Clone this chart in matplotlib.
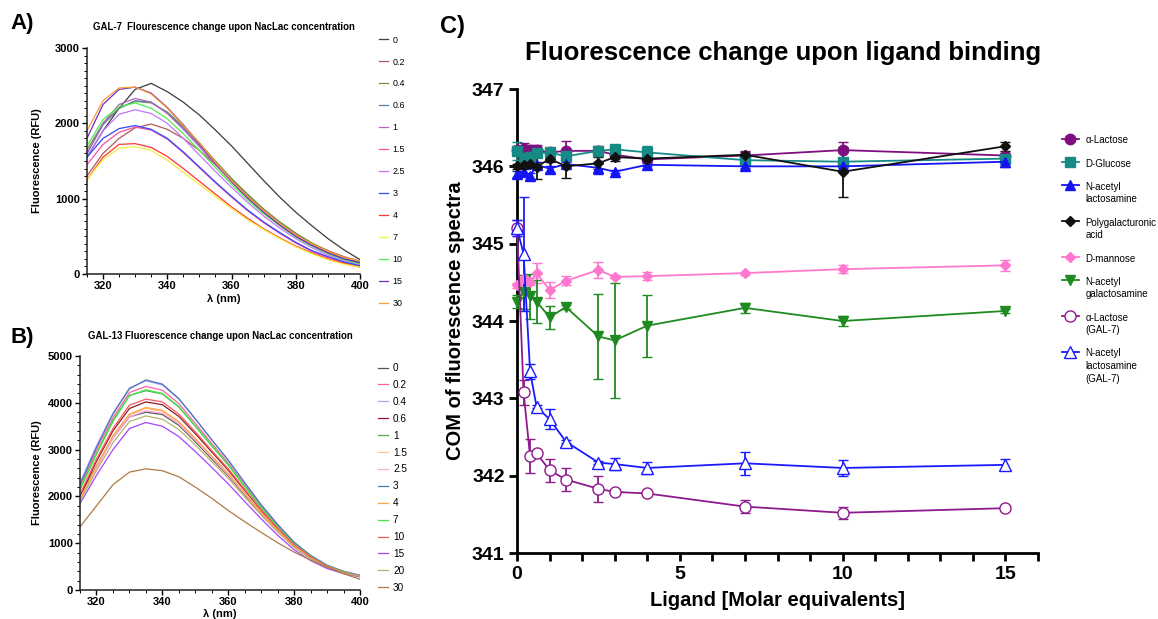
import numpy as np
import matplotlib.pyplot as plt
from matplotlib.lines import Line2D
from matplotlib.ticker import MultipleLocator

plt.rcParams['font.family'] = ['Liberation Sans', 'DejaVu Sans']

# emission wavelengths (nm)
wl = [315, 320, 325, 330, 335, 340, 345, 350, 355, 360, 365, 370, 375, 380, 385, 390, 395, 400]

# GAL-7 titration with NacLac (molar equivalents)
gal7_conc = ['0', '0.2', '0.4', '0.6', '1', '1.5', '2.5', '3', '4', '7', '10', '15', '30']
gal7_colors = ['#3a3a3a', '#b05a55', '#6f9a45', '#5f7f9f', '#b362bd', '#ff4f9f', '#c275ff',
               '#3347ff', '#ff3535', '#f5f03a', '#4cf04c', '#6a2fc0', '#ff9a35']
gal7_rfu = [
    [1550, 1900, 2200, 2450, 2530, 2420, 2280, 2110, 1910, 1700, 1470, 1240, 1020, 820, 640, 470, 320, 190],
    [1300, 1600, 1800, 1940, 1990, 1920, 1800, 1640, 1450, 1250, 1050, 860, 690, 540, 410, 310, 230, 170],
    [1650, 2000, 2200, 2290, 2270, 2150, 1960, 1740, 1500, 1270, 1060, 860, 690, 540, 410, 300, 220, 160],
    [1600, 1980, 2200, 2300, 2280, 2140, 1940, 1710, 1470, 1240, 1030, 840, 670, 520, 390, 290, 210, 150],
    [1600, 2000, 2250, 2330, 2280, 2130, 1920, 1690, 1450, 1220, 1010, 820, 650, 500, 380, 280, 200, 140],
    [1450, 1720, 1880, 1950, 1910, 1790, 1610, 1410, 1210, 1020, 840, 680, 540, 410, 300, 220, 150, 100],
    [1550, 1900, 2120, 2180, 2130, 2000, 1800, 1580, 1360, 1150, 950, 770, 610, 470, 350, 250, 180, 120],
    [1550, 1800, 1930, 1970, 1920, 1800, 1620, 1420, 1220, 1030, 850, 690, 550, 420, 310, 230, 160, 110],
    [1250, 1550, 1720, 1730, 1680, 1560, 1400, 1230, 1060, 890, 740, 600, 480, 370, 280, 200, 140, 90],
    [1250, 1520, 1670, 1690, 1640, 1510, 1350, 1190, 1030, 870, 720, 590, 470, 360, 270, 190, 130, 90],
    [1700, 2050, 2220, 2270, 2200, 2060, 1860, 1640, 1410, 1190, 980, 800, 640, 490, 370, 270, 190, 130],
    [1800, 2250, 2450, 2480, 2400, 2210, 1980, 1730, 1470, 1230, 1010, 820, 650, 500, 380, 280, 200, 150],
    [1900, 2300, 2470, 2480, 2390, 2200, 1970, 1740, 1480, 1240, 1030, 840, 670, 520, 400, 300, 220, 170],
]

# GAL-13 titration with NacLac (molar equivalents)
gal13_conc = ['0', '0.2', '0.4', '0.6', '1', '1.5', '2.5', '3', '4', '7', '10', '15', '20', '30']
gal13_colors = ['#555555', '#ff5fa5', '#a0a6ff', '#8b1c24', '#4caf50', '#ffc98a', '#ffa8e6',
                '#5674b4', '#ffa347', '#45e645', '#ff5560', '#a545ff', '#b5b36a', '#b07a45']
gal13_rfu = [
    [2000, 2650, 3250, 3700, 3800, 3750, 3520, 3170, 2800, 2440, 2030, 1630, 1260, 930, 680, 490, 370, 290],
    [2200, 3000, 3680, 4220, 4350, 4270, 3980, 3560, 3130, 2710, 2240, 1780, 1370, 1000, 730, 520, 390, 310],
    [2300, 3080, 3780, 4320, 4470, 4380, 4080, 3650, 3210, 2780, 2300, 1820, 1400, 1020, 740, 530, 400, 320],
    [2000, 2750, 3400, 3880, 4020, 3960, 3710, 3340, 2950, 2560, 2130, 1700, 1310, 960, 700, 500, 380, 290],
    [2150, 2920, 3620, 4160, 4260, 4190, 3910, 3500, 3080, 2670, 2210, 1750, 1350, 990, 720, 520, 390, 300],
    [1950, 2620, 3280, 3740, 3880, 3820, 3580, 3220, 2850, 2480, 2060, 1650, 1270, 940, 690, 500, 370, 290],
    [1950, 2600, 3250, 3700, 3830, 3780, 3550, 3200, 2830, 2460, 2050, 1640, 1270, 930, 680, 490, 370, 290],
    [2250, 3050, 3760, 4300, 4490, 4400, 4090, 3660, 3210, 2770, 2290, 1820, 1400, 1020, 740, 530, 400, 310],
    [1950, 2650, 3300, 3760, 3900, 3840, 3600, 3240, 2860, 2490, 2070, 1650, 1280, 940, 690, 500, 370, 290],
    [2150, 2900, 3600, 4150, 4280, 4200, 3920, 3510, 3090, 2680, 2220, 1760, 1350, 990, 720, 520, 390, 300],
    [2050, 2800, 3450, 3950, 4080, 4020, 3760, 3380, 2980, 2590, 2150, 1710, 1320, 970, 710, 510, 380, 300],
    [1850, 2450, 3000, 3450, 3580, 3500, 3280, 2960, 2620, 2270, 1890, 1520, 1170, 860, 630, 460, 350, 280],
    [1900, 2550, 3150, 3600, 3720, 3650, 3430, 3100, 2740, 2390, 1990, 1600, 1240, 910, 670, 490, 370, 290],
    [1350, 1800, 2250, 2520, 2590, 2550, 2420, 2200, 1960, 1700, 1460, 1230, 1010, 810, 640, 490, 350, 230],
]

# centre of mass of the spectra vs ligand equivalents (mean, sd)
ligand_eq = [0, 0.2, 0.4, 0.6, 1, 1.5, 2.5, 3, 4, 7, 10, 15]
lactose = [346.21, 346.22, 346.21, 346.21, 346.18, 346.2, 346.2, 346.15, 346.09, 346.14, 346.21, 346.14]
lactose_sd = [0.05, 0.08, 0.07, 0.06, 0.03, 0.13, 0.06, 0.05, 0.03, 0.06, 0.1, 0.03]
glucose = [346.2, 346.11, 346.12, 346.17, 346.18, 346.13, 346.2, 346.22, 346.18, 346.08, 346.06, 346.1]
glucose_sd = [0.12, 0.05, 0.05, 0.05, 0.03, 0.03, 0.03, 0.03, 0.08, 0.03, 0.03, 0.03]
nal = [345.9, 345.93, 345.87, 346.02, 345.97, 346.03, 345.98, 345.93, 346.02, 346.0, 346.0, 346.06]
nal_sd = [0.04, 0.03, 0.04, 0.04, 0.04, 0.03, 0.08, 0.02, 0.02, 0.02, 0.02, 0.07]
pga = [346.0, 346.02, 346.03, 345.99, 346.1, 346.0, 346.04, 346.12, 346.1, 346.15, 345.93, 346.26]
pga_sd = [0.03, 0.04, 0.05, 0.15, 0.04, 0.15, 0.08, 0.05, 0.03, 0.03, 0.32, 0.06]
mannose = [344.46, 344.55, 344.51, 344.62, 344.4, 344.52, 344.66, 344.57, 344.58, 344.62, 344.67, 344.72]
mannose_sd = [0.03, 0.05, 0.05, 0.13, 0.1, 0.06, 0.1, 0.02, 0.05, 0.02, 0.05, 0.07]
galnac = [344.25, 344.38, 344.32, 344.25, 344.05, 344.18, 343.8, 343.75, 343.94, 344.17, 344.0, 344.13]
galnac_sd = [0.08, 0.22, 0.29, 0.28, 0.15, 0.03, 0.55, 0.74, 0.4, 0.06, 0.07, 0.02]
lactose_g7 = [345.2, 343.08, 342.25, 342.29, 342.07, 341.95, 341.83, 341.79, 341.77, 341.6, 341.52, 341.58]
lactose_g7_sd = [0.1, 0.16, 0.22, 0.02, 0.15, 0.15, 0.17, 0.02, 0.02, 0.08, 0.08, 0.02]
nal_g7 = [345.2, 344.87, 343.35, 342.89, 342.73, 342.44, 342.17, 342.15, 342.1, 342.16, 342.1, 342.14]
nal_g7_sd = [0.1, 0.74, 0.1, 0.02, 0.13, 0.02, 0.02, 0.08, 0.08, 0.15, 0.1, 0.07]

com_series = [
    # label, mean, sd, colour, marker, size, open marker
    ('α-Lactose', lactose, lactose_sd, '#7f0f7e', 'o', 7.5, False),
    ('D-Glucose', glucose, glucose_sd, '#178a86', 's', 6.5, False),
    ('N-acetyl\nlactosamine', nal, nal_sd, '#1414f5', '^', 7, False),
    ('Polygalacturonic\nacid', pga, pga_sd, '#111111', 'D', 5, False),
    ('D-mannose', mannose, mannose_sd, '#ff78cf', 'D', 5, False),
    ('N-acetyl\ngalactosamine', galnac, galnac_sd, '#1f8a1f', 'v', 7, False),
    ('α-Lactose\n(GAL-7)', lactose_g7, lactose_g7_sd, '#8e1a8e', 'o', 8, True),
    ('N-acetyl\nlactosamine\n(GAL-7)', nal_g7, nal_g7_sd, '#1a1aff', '^', 8, True),
]


def style_spectrum_axes(ax, ymax, yminor):
    for side in ('top', 'right'):
        ax.spines[side].set_visible(False)
    for side in ('left', 'bottom'):
        ax.spines[side].set_linewidth(1.1)
        ax.spines[side].set_color('#222222')
    ax.set_xlim(315, 400)
    ax.set_ylim(0, ymax)
    ax.xaxis.set_major_locator(MultipleLocator(20))
    ax.xaxis.set_minor_locator(MultipleLocator(5))
    ax.yaxis.set_major_locator(MultipleLocator(1000))
    ax.yaxis.set_minor_locator(MultipleLocator(yminor))
    ax.tick_params(which='major', length=3.5, width=1, labelsize=8, pad=1.5)
    ax.tick_params(which='minor', length=2, width=0.7)
    for lab in ax.get_xticklabels() + ax.get_yticklabels():
        lab.set_fontweight('bold')
    ax.set_xlabel('λ (nm)', fontsize=8, fontweight='bold')
    ax.set_ylabel('Fluorescence (RFU)', fontsize=8, fontweight='bold')


fig = plt.figure(figsize=(11.58, 6.19), dpi=100)

# A) GAL-7 spectra
ax_a = fig.add_axes([0.0751, 0.5574, 0.2358, 0.3651])
for lab, col, ys in zip(gal7_conc, gal7_colors, gal7_rfu):
    ax_a.plot(wl, ys, color=col, lw=0.9, label=lab)
style_spectrum_axes(ax_a, 3000, 100)
ax_a.set_title('GAL-7  Flourescence change upon NacLac concentration',
               fontsize=6.9, fontweight='bold', pad=13)
ax_a.yaxis.set_label_coords(-0.165, 0.5)
ax_a.xaxis.set_label_coords(0.5, -0.09)
ax_a.legend(loc='upper left', bbox_to_anchor=(1.07, 1.055), frameon=False,
            fontsize=6.4, handlelength=1.0, handletextpad=0.5, labelspacing=1.46,
            borderpad=0, borderaxespad=0)

# B) GAL-13 spectra
ax_b = fig.add_axes([0.0691, 0.0468, 0.2418, 0.378])
for lab, col, ys in zip(gal13_conc, gal13_colors, gal13_rfu):
    ax_b.plot(wl, ys, color=col, lw=0.9, label=lab)
style_spectrum_axes(ax_b, 5000, 200)
ax_b.set_title('GAL-13 Fluorescence change upon NacLac concentration',
               fontsize=6.9, fontweight='bold', pad=12)
ax_b.yaxis.set_label_coords(-0.136, 0.5)
ax_b.xaxis.set_label_coords(0.5, -0.082)
ax_b.legend(loc='upper left', bbox_to_anchor=(1.064, 0.97), frameon=False,
            fontsize=7.2, handlelength=1.0, handletextpad=0.5, labelspacing=0.69,
            borderpad=0, borderaxespad=0)

# C) centre of mass vs ligand
ax_c = fig.add_axes([0.4465, 0.1066, 0.4499, 0.7496])
handles = []
for lab, ys, sd, col, mk, ms, hollow in com_series:
    face = 'white' if hollow else col
    ax_c.errorbar(ligand_eq, ys, yerr=sd, color=col, marker=mk, markersize=ms,
                  mfc=face, mec=col, mew=1.0, lw=1.3, elinewidth=1.3,
                  capsize=3.5, capthick=1.3, clip_on=False, zorder=3)
    handles.append(Line2D([], [], color=col, marker=mk, markersize=ms, mfc=face,
                          mec=col, mew=1.0, lw=1.3, label=lab))

for side in ('top', 'right'):
    ax_c.spines[side].set_visible(False)
for side in ('left', 'bottom'):
    ax_c.spines[side].set_linewidth(2)
ax_c.set_xlim(0, 16)
ax_c.set_ylim(341, 347)
ax_c.xaxis.set_major_locator(MultipleLocator(5))
ax_c.xaxis.set_minor_locator(MultipleLocator(1))
ax_c.yaxis.set_major_locator(MultipleLocator(1))
ax_c.tick_params(which='both', length=6, width=2, labelsize=14, pad=3)
for lab in ax_c.get_xticklabels() + ax_c.get_yticklabels():
    lab.set_fontweight('bold')
ax_c.set_title('Fluorescence change upon ligand binding', fontsize=18.5,
               fontweight='bold', pad=21, x=0.51)
ax_c.set_xlabel('Ligand [Molar equivalents]', fontsize=14.5, fontweight='bold')
ax_c.set_ylabel('COM of fluorescence spectra', fontsize=14.5, fontweight='bold')
ax_c.yaxis.set_label_coords(-0.1, 0.5)
ax_c.xaxis.set_label_coords(0.5, -0.082)

leg = ax_c.legend(handles=handles, loc='upper left', bbox_to_anchor=(1.046, 0.9),
                  frameon=False, fontsize=7, handlelength=1.7, handletextpad=0.7,
                  labelspacing=1.35, borderpad=0, borderaxespad=0)
for col in leg._legend_handle_box.get_children():
    for row in col.get_children():
        row.align = 'top'
for txt in leg.get_texts():
    txt.set_linespacing(1.35)

fig.text(0.009, 0.962, 'A)', fontsize=16, fontweight='bold', va='center')
fig.text(0.009, 0.455, 'B)', fontsize=16, fontweight='bold', va='center')
fig.text(0.38, 0.957, 'C)', fontsize=17, fontweight='bold', va='center')

fig.savefig('out.png', dpi=100)
